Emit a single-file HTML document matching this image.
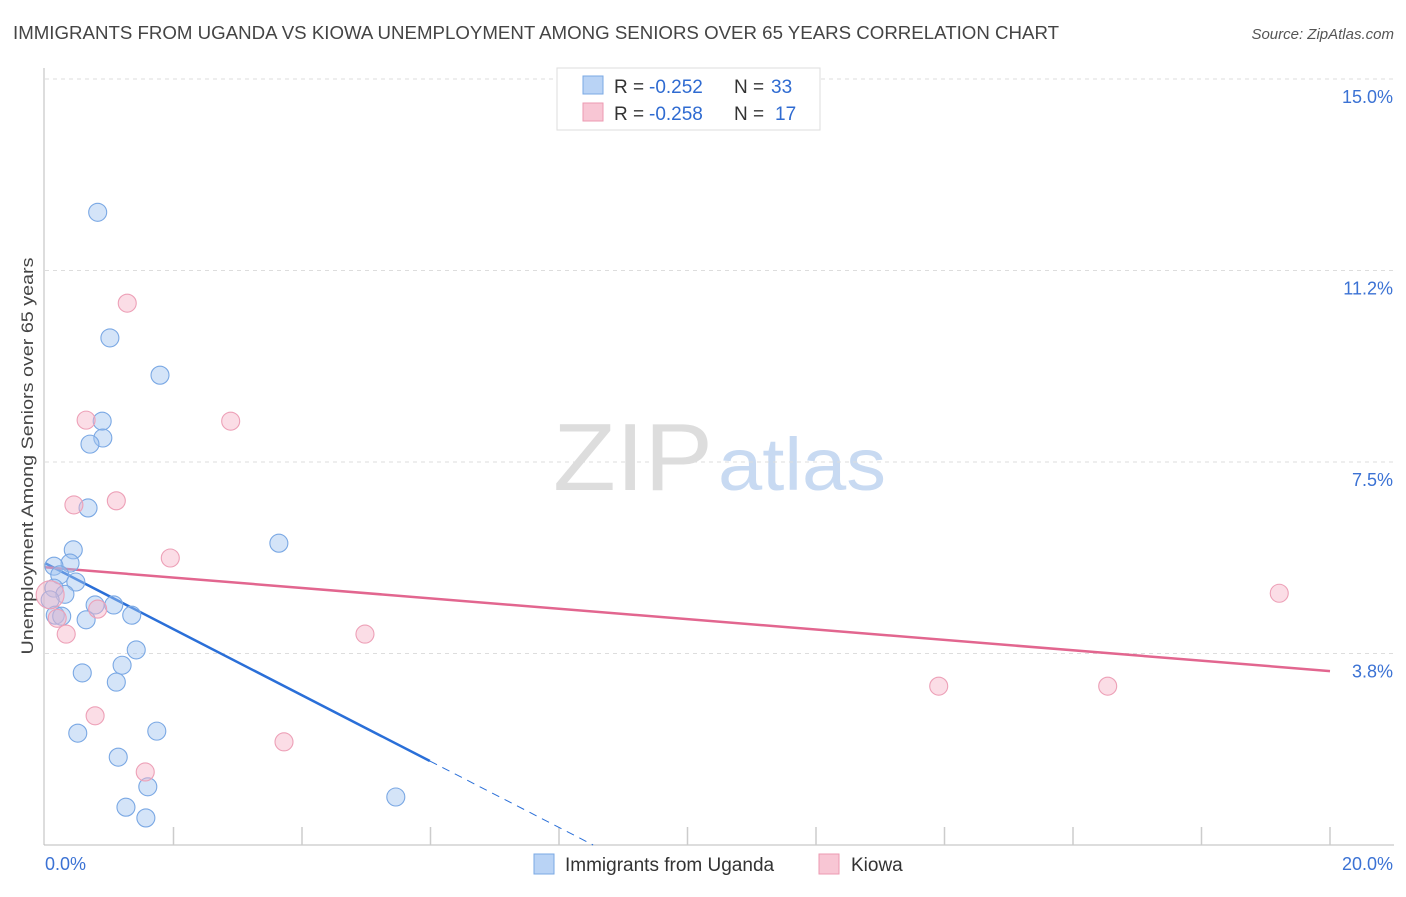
<!DOCTYPE html>
<html><head><meta charset="utf-8"><style>
body{margin:0;background:#fff;font-family:"Liberation Sans",sans-serif;}
svg text{font-family:"Liberation Sans",sans-serif;}
</style></head><body>
<svg id="chart" width="1406" height="892" xmlns="http://www.w3.org/2000/svg">
<text x="13" y="39" font-size="18" fill="#444" textLength="1046" lengthAdjust="spacingAndGlyphs">IMMIGRANTS FROM UGANDA VS KIOWA UNEMPLOYMENT AMONG SENIORS OVER 65 YEARS CORRELATION CHART</text>
<text x="1394" y="39" font-size="15" fill="#555" text-anchor="end" font-style="italic">Source: ZipAtlas.com</text>
<text x="553" y="490" font-size="96" fill="#ddd" font-family="Liberation Serif" textLength="160" lengthAdjust="spacingAndGlyphs">ZIP</text>
<text x="718" y="490" font-size="74" fill="#c8daf2" textLength="168" lengthAdjust="spacingAndGlyphs">atlas</text>
<text transform="translate(33,456) rotate(-90)" font-size="17" fill="#444" text-anchor="middle" textLength="397" lengthAdjust="spacingAndGlyphs">Unemployment Among Seniors over 65 years</text>
<g id="grid"></g><g id="axes"></g><g id="trends"></g><g id="points"></g>
<g>
<rect x="557" y="68" width="263" height="62" fill="#fff" stroke="#ddd"/>
<rect x="583" y="76" width="20" height="18" fill="#b9d3f5" stroke="#7aa8e4"/>
<rect x="583" y="103" width="20" height="18" fill="#f8c6d4" stroke="#ec9ab2"/>
<text x="614" y="93" font-size="19" fill="#333">R =</text>
<text x="649" y="93" font-size="19" fill="#2f6bd1">-0.252</text>
<text x="734" y="93" font-size="19" fill="#333">N =</text>
<text x="771" y="93" font-size="19" fill="#2f6bd1">33</text>
<text x="614" y="120" font-size="19" fill="#333">R =</text>
<text x="649" y="120" font-size="19" fill="#2f6bd1">-0.258</text>
<text x="734" y="120" font-size="19" fill="#333">N =</text>
<text x="775" y="120" font-size="19" fill="#2f6bd1">17</text>
</g>
<g>
<rect x="534" y="854" width="20" height="20" fill="#b9d3f5" stroke="#7aa8e4"/>
<text x="565" y="871" font-size="19" fill="#333">Immigrants from Uganda</text>
<rect x="819" y="854" width="20" height="20" fill="#f8c6d4" stroke="#ec9ab2"/>
<text x="851" y="871" font-size="19" fill="#333">Kiowa</text>
</g>
</svg>
<script>
const yTicks=[3.75,7.5,11.25,15];
const yTickLabels=["3.8%","7.5%","11.2%","15.0%"];
const xTickLabels=["0.0%","20.0%"];
const blueX=[.82,1.01,1.79,.89,.90,.70,.67,.44,.39,.14,.23,.48,.14,.31,.08,.78,1.07,.16,.26,1.35,.64,1.42,1.20,.58,1.11,3.64,1.74,.51,1.14,1.60,1.26,1.57,5.46];
const blueY=[12.39,9.93,9.20,8.30,7.97,7.85,6.60,5.78,5.52,5.46,5.29,5.15,5.03,4.91,4.80,4.70,4.70,4.50,4.48,4.50,4.41,3.82,3.52,3.37,3.19,5.91,2.23,2.19,1.72,1.14,.74,.53,.94];
const pinkX=[1.28,.64,2.89,.45,1.11,1.95,.08,.82,.19,.33,4.98,.78,3.72,1.56,13.91,16.54,19.21];
const pinkY=[10.61,8.32,8.30,6.66,6.74,5.62,4.90,4.62,4.44,4.13,4.13,2.53,2.02,1.43,3.11,3.11,4.93];
const blueTrend=[5.52,-0.647];
const pinkTrend=[5.44,-0.1017];
const NS="http://www.w3.org/2000/svg";
const X=v=>45+v/20*1285, Y=v=>845-v*766/15;
function mk(t,a,p){const e=document.createElementNS(NS,t);for(const k in a)e.setAttribute(k,a[k]);document.getElementById(p).appendChild(e);return e;}
yTicks.forEach((t,i)=>{
 const g=mk('line',{x1:45,x2:1394,y1:Y(t),y2:Y(t),stroke:'#ddd','stroke-dasharray':'4,4'},'grid');
 
 
 const l=mk('text',{x:1393,y:Y(t)+24,'font-size':18,fill:'#3b72d4','text-anchor':'end'},'grid');l.textContent=yTickLabels[i];
 
 
});
mk('line',{x1:44,x2:44,y1:68,y2:845,stroke:'#bbb'},'axes');
mk('line',{x1:44,x2:1394,y1:845,y2:845,stroke:'#bbb'},'axes');
for(let i=1;i<=10;i++){const t=mk('line',{x1:X(i*2),x2:X(i*2),y1:827,y2:845,stroke:'#ccc','stroke-width':1.5},'axes');
 
 }
[[0,'start',45],[20,'end',1393]].forEach((d,i)=>{const l=mk('text',{x:d[2],y:870,'font-size':18,fill:'#3b72d4','text-anchor':d[1]},'axes');l.textContent=xTickLabels[i];
 
 });
const bEnd=5.99;
let tl=mk('line',{x1:X(0),y1:Y(blueTrend[0]),x2:X(bEnd),y2:Y(blueTrend[0]+blueTrend[1]*bEnd),stroke:'#2a6fd8','stroke-width':2.5},'trends');


const bz=-blueTrend[0]/blueTrend[1];
tl=mk('line',{x1:X(bEnd),y1:Y(blueTrend[0]+blueTrend[1]*bEnd),x2:X(bz),y2:Y(0),stroke:'#2a6fd8','stroke-width':1,'stroke-dasharray':'8,6'},'trends');


tl=mk('line',{x1:X(0),y1:Y(pinkTrend[0]),x2:X(20),y2:Y(pinkTrend[0]+pinkTrend[1]*20),stroke:'#e2668f','stroke-width':2.5},'trends');


blueX.forEach((v,i)=>{const c=mk('circle',{cx:X(v),cy:Y(blueY[i]),r:9,fill:'rgba(160,196,240,0.45)',stroke:'#7aa8e4','stroke-width':1.1},'points');
 
 });
pinkX.forEach((v,i)=>{const c=mk('circle',{cx:X(v),cy:Y(pinkY[i]),r:(i==6?14:9),fill:'rgba(246,180,200,0.45)',stroke:'#eda0b7','stroke-width':1.1},'points');
 
 });
</script>
</body></html>
